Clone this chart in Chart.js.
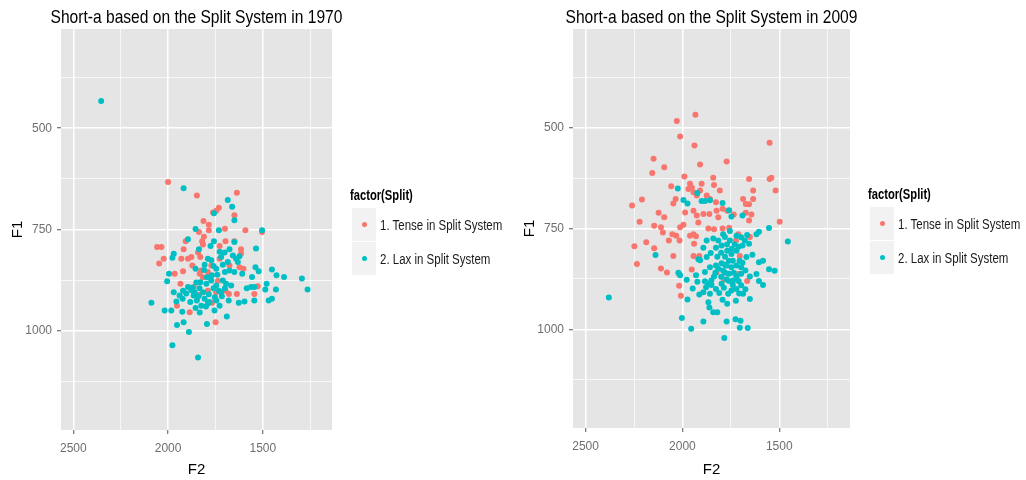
<!DOCTYPE html>
<html>
<head>
<meta charset="utf-8">
<script src="https://cdn.jsdelivr.net/npm/chart.js@4.4.1/dist/chart.umd.min.js"></script>
<style>
body { margin: 0; background: #fff; width: 1026px; height: 480px; overflow: hidden; position: relative;
       font-family: "Liberation Sans", Arial, sans-serif; }
canvas { position: absolute; top: 0; }
.lt { position: absolute; font-weight: bold; font-size: 14px; color: #000; line-height: 16px; white-space: nowrap;
      transform: scaleX(0.8); transform-origin: 0 50%; }
.lk { position: absolute; background: #f2f2f2; }
.lk i { position: absolute; left: 50%; top: 50%; width: 5px; height: 5px; margin: -2.5px 0 0 -2.5px; border-radius: 50%; }
.lx { position: absolute; font-size: 14px; color: #1a1a1a; line-height: 16px; white-space: nowrap;
      transform: scaleX(0.82); transform-origin: 0 50%; }
</style>
</head>
<body>
<canvas id="c1970" width="513" height="480" style="left:0;width:513px;height:480px"></canvas>
<canvas id="c2009" width="514" height="480" style="left:512px;width:514px;height:480px"></canvas>
<script>
const categories = ['1. Tense in Split System', '2. Lax in Split System'];
const colors = ['#F8766D', '#00BFC4'];
const xTicks = [2500, 2000, 1500];
const xGrid = [2500, 2250, 2000, 1750, 1500, 1250];
const yTicks = [500, 750, 1000];
const yGrid = [375, 500, 625, 750, 875, 1000, 1125];

// 1970
const f2Tense1970 = [2000,1848,1637,1732,1746,1763,1650,1813,1785,1785,1837,1700,1592,1504,1811,1820,1816,1697,1728,1650,1615,1615,2058,2035,2023,2047,1918,1907,1930,1895,1877,1842,1830,1872,1825,1833,1816,1790,1772,1728,1676,1623,1602,1921,1965,1935,1865,1790,1746,1697,1679,1637,1545,1527,1953,1886,1749,1834,1768,1737];
const f1Tense1970 = [633,666,659,696,704,708,715,729,738,752,756,748,752,756,768,779,787,779,791,779,799,809,793,793,822,834,799,779,822,822,818,807,818,839,851,859,868,855,839,822,839,843,847,853,859,884,892,901,905,901,909,909,909,890,938,954,979,911,931,877];
const f2Lax1970 = [2353,1918,1685,1662,1650,1758,1855,1732,1504,1895,1837,1758,1650,1728,1702,1536,1970,1977,1995,2005,1970,2088,2018,1983,1956,1925,1918,1953,1890,1977,1842,1795,1690,1790,1855,1807,1772,1746,1711,1676,1650,1641,1632,1609,1557,1539,1522,1452,1428,1388,1294,1264,1431,1480,1487,1585,1562,1545,1452,1469,1545,1597,1627,1680,1716,1732,1753,1781,1807,1825,1848,1865,1877,1895,1904,1883,1855,1833,1790,1755,1728,1798,1772,1746,1711,1694,1667,1795,1769,1834,1851,1872,1658,1676,1623,1720,1685,1939,1921,1776,1923,1860,1840,1815,1800,1745,1720,1700,1760,1785,1830,1810,1740,1760,1700];
const f1Lax1970 = [433,648,677,694,727,710,749,752,752,774,799,779,781,805,807,797,810,820,859,878,905,931,950,950,928,953,979,986,1003,1036,1066,983,965,822,847,837,826,847,837,851,855,822,830,859,867,843,853,849,863,867,871,898,898,884,898,895,892,892,921,925,925,928,931,925,915,901,917,929,921,938,925,913,900,892,908,929,944,955,933,950,938,884,876,888,876,884,888,868,863,895,881,894,814,799,816,818,830,913,901,791,921,905,915,905,940,925,905,895,895,910,880,850,862,840,855];

// 2009
const f2Tense2009 = [1933,2029,2012,1938,1550,2149,2094,2156,1909,1772,2058,1990,1961,1952,1969,1943,1926,1901,1909,1875,1858,1841,1837,1807,1827,2209,2260,2221,2123,2094,2146,2111,2101,2047,2035,2012,1995,1986,1943,1926,1918,1892,1861,1824,1815,1793,1769,2052,2032,2015,1961,1943,1930,1940,2070,2248,2187,2146,2047,2235,2111,2080,2017,2017,2008,1952,1943,1866,1837,1793,1759,1735,1673,1656,1687,1673,1635,1635,1656,1519,1541,1550,1498,1644,1656,1712,1724,1704,1666,1824,1786,1712,1652,1913];
const f1Tense2009 = [468,483,522,544,537,577,598,612,591,584,645,621,639,648,652,660,668,639,656,668,677,624,642,656,685,678,693,733,711,722,743,747,760,688,677,747,741,710,706,718,735,714,714,706,722,701,706,764,768,780,768,764,769,788,780,794,784,799,818,838,849,859,863,892,917,852,818,750,752,750,748,715,711,690,677,689,656,677,627,656,624,627,733,715,730,764,780,818,880,859,877,863,771,818];
const f2Lax2009 = [2380,2024,1995,1974,1923,1901,1884,1858,1793,1759,1747,1690,1666,1618,1605,1553,1456,1639,1605,1584,1553,1524,1618,1605,1584,1652,1652,2139,2021,2012,1978,1947,1974,2003,1955,1892,1866,1861,1841,1820,1772,1726,1700,1704,1663,1784,1769,1793,1913,1892,1878,1866,1851,1837,1827,1810,1786,1764,1747,1721,1697,1675,1738,1721,1697,1675,1759,1790,1815,1858,1884,1909,1875,1854,1827,1798,1769,1747,1721,1690,1670,1755,1781,1815,1841,1875,1892,1918,1721,1747,1772,1798,1827,1697,1678,1656,1790,1755,1721,1697,1884,1858,1798,1772,1707,1687,1724,1923,1930,1760,1740,1735,1760,1780,1800,1740,1710,1705,1690,1820,1800,1780,1770,1730,1745,1850,1830,1710,1780];
const f1Lax2009 = [921,651,679,688,662,682,682,680,687,705,720,718,766,764,758,749,782,815,834,830,851,855,863,880,890,869,925,816,860,866,877,899,926,972,999,981,933,946,958,958,981,975,979,996,997,1022,937,927,914,908,896,887,879,869,900,910,897,912,904,900,891,901,879,869,862,854,862,854,850,846,858,829,821,811,798,792,805,813,805,792,821,780,771,780,775,780,798,826,842,846,842,836,842,846,780,788,764,756,768,772,881,912,887,876,911,912,929,882,866,830,830,860,880,860,870,890,880,830,835,820,810,820,790,790,800,890,860,795,840];

const FONT = '"Liberation Sans", Arial, sans-serif';

function zip(xs, ys) {
    return xs.map((x, i) => ({ x: x, y: ys[i] }));
}

const panelBg = {
    id: 'panelBg',
    beforeDraw(chart) {
        const a = chart.chartArea;
        const ctx = chart.ctx;
        ctx.save();
        ctx.fillStyle = '#e5e5e5';
        ctx.fillRect(a.left, a.top, a.right - a.left, a.bottom - a.top);
        ctx.restore();
    }
};

// titulo centrado sobre o painel, fonte estreita (escala horizontal)
const panelTitle = {
    id: 'panelTitle',
    afterDraw(chart, args, opts) {
        const a = chart.chartArea;
        const ctx = chart.ctx;
        ctx.save();
        ctx.translate((a.left + a.right) / 2, 23);
        ctx.scale(0.82, 1);
        ctx.font = '19px ' + FONT;
        ctx.fillStyle = '#000';
        ctx.textAlign = 'center';
        ctx.textBaseline = 'alphabetic';
        ctx.fillText(opts.text, 0, 0);
        ctx.restore();
    }
};

function makeChart(id, title, tenseX, tenseY, laxX, laxY, rightPad, xHeight) {
    const ctx = document.getElementById(id).getContext('2d');
    return new Chart(ctx, {
        type: 'scatter',
        data: {
            datasets: [{
                label: categories[0],
                data: zip(tenseX, tenseY),
                backgroundColor: colors[0],
                borderWidth: 0,
                pointRadius: 3,
                order: 1
            }, {
                label: categories[1],
                data: zip(laxX, laxY),
                backgroundColor: colors[1],
                borderWidth: 0,
                pointRadius: 3,
                order: 0
            }]
        },
        options: {
            responsive: false,
            animation: false,
            devicePixelRatio: 1,
            layout: { padding: { left: 0, top: 29, right: rightPad, bottom: 0 } },
            plugins: {
                legend: { display: false },
                tooltip: { enabled: false },
                panelTitle: { text: title }
            },
            scales: {
                x: {
                    type: 'linear',
                    reverse: true,
                    min: 1135,
                    max: 2565,
                    afterBuildTicks: s => { s.ticks = xGrid.map(v => ({ value: v })); },
                    afterFit: s => { s.height = xHeight; },
                    border: { display: false },
                    grid: {
                        color: '#ffffff',
                        lineWidth: c => xTicks.includes(c.tick.value) ? 1.5 : 0.7,
                        drawTicks: true,
                        tickLength: 4,
                        tickWidth: 1,
                        tickColor: c => xTicks.includes(c.tick.value) ? '#555' : 'rgba(0,0,0,0)'
                    },
                    ticks: {
                        autoSkip: false,
                        maxRotation: 0,
                        padding: 7,
                        color: '#6e6e6e',
                        font: { family: FONT, size: 12 },
                        callback: v => xTicks.includes(v) ? String(v) : ''
                    },
                    title: {
                        display: true,
                        text: 'F2',
                        color: '#000',
                        font: { family: FONT, size: 15 },
                        padding: { top: 1, bottom: 1 }
                    }
                },
                y: {
                    type: 'linear',
                    reverse: true,
                    min: 255,
                    max: 1245,
                    afterBuildTicks: s => { s.ticks = yGrid.map(v => ({ value: v })); },
                    afterFit: s => { s.width = 61; },
                    border: { display: false },
                    grid: {
                        color: '#ffffff',
                        lineWidth: c => yTicks.includes(c.tick.value) ? 1.5 : 0.7,
                        drawTicks: true,
                        tickLength: 4,
                        tickWidth: 1,
                        tickColor: c => yTicks.includes(c.tick.value) ? '#555' : 'rgba(0,0,0,0)'
                    },
                    ticks: {
                        autoSkip: false,
                        padding: 5,
                        color: '#6e6e6e',
                        font: { family: FONT, size: 12 },
                        callback: v => yTicks.includes(v) ? String(v) : ''
                    },
                    title: {
                        display: true,
                        text: 'F1',
                        color: '#000',
                        font: { family: FONT, size: 15 },
                        padding: { top: 9, bottom: 0 }
                    }
                }
            }
        },
        plugins: [panelBg, panelTitle]
    });
}

makeChart('c1970', 'Short-a based on the Split System in 1970', f2Tense1970, f1Tense1970, f2Lax1970, f1Lax1970, 181, 50);
makeChart('c2009', 'Short-a based on the Split System in 2009', f2Tense2009, f1Tense2009, f2Lax2009, f1Lax2009, 176, 52);

// legenda em HTML, ao lado de cada painel
function makeLegend(left, top) {
    const title = document.createElement('div');
    title.className = 'lt';
    title.style.left = left + 'px';
    title.style.top = (top - 21) + 'px';
    title.textContent = 'factor(Split)';
    document.body.appendChild(title);
    categories.forEach((cat, i) => {
        const key = document.createElement('div');
        key.className = 'lk';
        key.style.left = (left + 2) + 'px';
        key.style.top = (top + i * 34) + 'px';
        key.style.width = '24px';
        key.style.height = '33px';
        const dot = document.createElement('i');
        dot.style.background = colors[i];
        key.appendChild(dot);
        document.body.appendChild(key);
        const txt = document.createElement('div');
        txt.className = 'lx';
        txt.style.left = (left + 30) + 'px';
        txt.style.top = (top + 9 + i * 34) + 'px';
        txt.textContent = cat;
        document.body.appendChild(txt);
    });
}
makeLegend(350, 208);
makeLegend(868, 207);
</script>
</body>
</html>
